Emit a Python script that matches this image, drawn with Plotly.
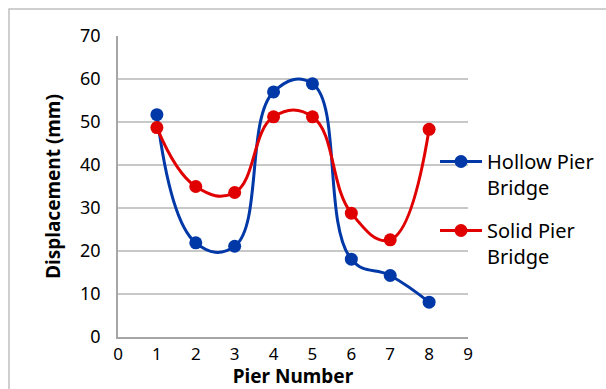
import plotly.graph_objects as go

piers = [1, 2, 3, 4, 5, 6, 7, 8]
hollow = [51.7, 21.9, 21.1, 57.0, 58.9, 18.1, 14.3, 8.1]
solid = [48.7, 35.0, 33.6, 51.2, 51.2, 28.8, 22.6, 48.3]
x_ticks = list(range(0, 10))
y_ticks = list(range(0, 80, 10))

BLUE = "#0038A8"
RED = "#E00000"
GRID = "#C8C8C8"
FONT = "Noto Sans"

W, H = 606, 389
L, R, T, B = 118, 138, 36, 52

fig = go.Figure()
fig.add_trace(go.Scatter(
    x=piers, y=hollow, name="Hollow Pier<br>Bridge", mode="lines+markers",
    legendgroup="h",
    line=dict(color=BLUE, width=3, shape="spline", smoothing=1.25),
    marker=dict(color=BLUE, size=13),
))
fig.add_trace(go.Scatter(
    x=piers, y=solid, name="Solid Pier<br>Bridge", mode="lines+markers",
    legendgroup="s",
    line=dict(color=RED, width=3, shape="spline", smoothing=1.25),
    marker=dict(color=RED, size=13),
))

pw = W - L - R
ph = H - T - B


def px_x(p):
    return (p - L) / pw


def px_y(p):
    return (H - B - p) / ph


fig.add_shape(type="rect", xref="paper", yref="paper",
              x0=px_x(9), x1=px_x(W + 20),
              y0=px_y(H + 20), y1=px_y(9),
              line=dict(color="#C0C0C0", width=1.5), layer="below")

fig.update_layout(
    width=W, height=H,
    margin=dict(l=L, r=R, t=T, b=B, autoexpand=False),
    paper_bgcolor="white", plot_bgcolor="white",
    font=dict(family=FONT, size=18, color="#000000"),
    showlegend=True,
    legend=dict(x=px_x(435), y=px_y(142), xanchor="left", yanchor="top",
                font=dict(size=20), valign="top", tracegroupgap=14,
                bgcolor="rgba(0,0,0,0)", itemwidth=42),
)
fig.update_xaxes(
    range=[0, 9], tickvals=x_ticks, ticktext=[str(v) for v in x_ticks],
    showgrid=False, zeroline=False, showline=True, linecolor="#A6A6A6", linewidth=1.5,
    ticks="", ticklabelstandoff=1, automargin=False, tickfont=dict(size=17),
    title=dict(text="<b>Pier Number</b>", font=dict(size=19), standoff=7),
)
fig.update_yaxes(
    range=[0, 70], tickvals=y_ticks, ticktext=[str(v) for v in y_ticks],
    showgrid=True, gridcolor=GRID, gridwidth=1.5, zeroline=False,
    showline=True, linecolor="#A6A6A6", linewidth=1.5,
    ticks="", ticklabelstandoff=12, automargin=False,
    title=dict(text="<b>Displacement (mm)</b>", font=dict(size=19), standoff=14),
)

fig.write_html("out.html")
